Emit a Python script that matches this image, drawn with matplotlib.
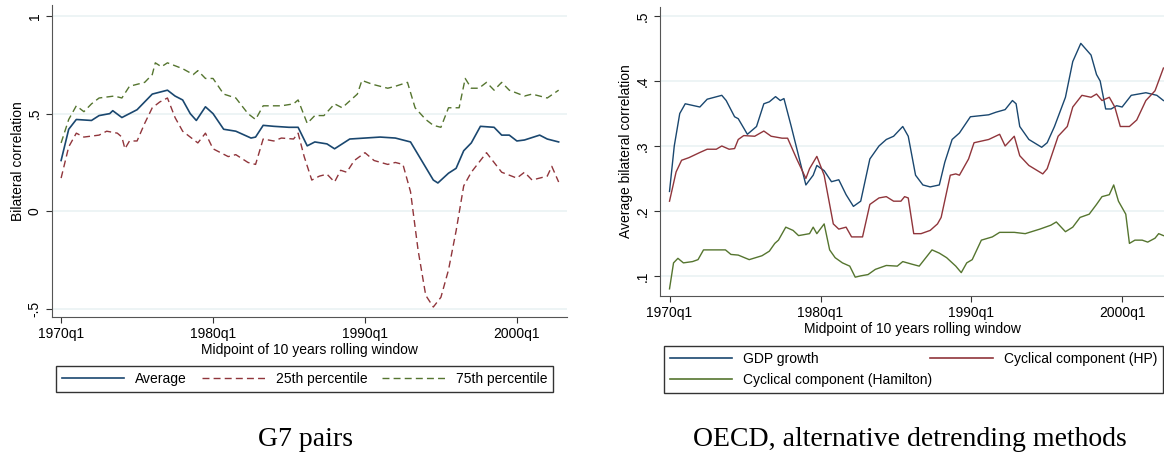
import numpy as np
import matplotlib
matplotlib.use("Agg")
import matplotlib.pyplot as plt
from matplotlib.lines import Line2D

plt.rcParams['font.family'] = ['Liberation Sans Narrow', 'Liberation Sans', 'DejaVu Sans']

# ---- left panel: G7 pairs (x in years) ----
avg_x = [1970, 1970.5, 1971, 1972, 1972.5, 1973.2, 1973.4, 1974, 1974.5, 1975, 1976, 1976.5, 1977,
         1977.5, 1978, 1978.5, 1978.9, 1979.5, 1980, 1980.7, 1981.5, 1982.5, 1982.8, 1983.3, 1984,
         1985, 1985.6, 1986.2, 1986.7, 1987.5, 1988, 1989, 1990, 1991, 1992, 1993, 1993.5, 1994.5,
         1994.8, 1995.5, 1996, 1996.5, 1997, 1997.6, 1998.5, 1999, 1999.5, 2000, 2000.5, 2001.5,
         2002, 2002.75]
avg_y = [0.26, 0.42, 0.47, 0.465, 0.49, 0.5, 0.515, 0.48, 0.5, 0.52, 0.6, 0.61, 0.62,
         0.59, 0.57, 0.5, 0.465, 0.535, 0.5, 0.42, 0.41, 0.375, 0.38, 0.44, 0.435,
         0.43, 0.43, 0.335, 0.355, 0.345, 0.32, 0.37, 0.375, 0.38, 0.375, 0.355, 0.29, 0.16,
         0.145, 0.195, 0.22, 0.31, 0.35, 0.435, 0.43, 0.39, 0.39, 0.36, 0.365, 0.39,
         0.37, 0.355]
p25_x = [1970, 1970.5, 1971, 1971.5, 1972.5, 1973, 1973.7, 1974, 1974.2, 1974.5, 1975, 1975.5, 1976,
         1976.5, 1977, 1977.5, 1978, 1978.5, 1979, 1979.5, 1980, 1981, 1981.5, 1982.3, 1982.8,
         1983.3, 1984, 1984.5, 1985.3, 1985.6, 1986, 1986.5, 1987, 1987.5, 1988, 1988.4, 1988.8,
         1989.3, 1990, 1990.6, 1991.5, 1992, 1992.5, 1993, 1993.5, 1994, 1994.5, 1995, 1995.5,
         1996, 1996.5, 1997, 1997.5, 1998, 1998.5, 1999, 2000, 2000.5, 2001, 2002, 2002.3, 2002.75]
p25_y = [0.17, 0.33, 0.4, 0.38, 0.39, 0.41, 0.4, 0.38, 0.32, 0.36, 0.36, 0.45, 0.53,
         0.56, 0.58, 0.48, 0.41, 0.38, 0.35, 0.4, 0.32, 0.28, 0.29, 0.25, 0.24,
         0.37, 0.36, 0.375, 0.37, 0.4, 0.28, 0.16, 0.18, 0.19, 0.15, 0.21, 0.2,
         0.26, 0.3, 0.26, 0.24, 0.25, 0.24, 0.1, -0.2, -0.43, -0.49, -0.44, -0.3,
         -0.1, 0.13, 0.2, 0.25, 0.3, 0.25, 0.2, 0.17, 0.2, 0.16, 0.18, 0.23, 0.15]
p75_x = [1970, 1970.5, 1971, 1971.5, 1972, 1972.5, 1973.5, 1974, 1974.5, 1975.5, 1976, 1976.2, 1976.6,
         1977, 1978, 1978.7, 1979, 1979.5, 1980, 1980.7, 1981.5, 1982.3, 1982.8, 1983.3, 1984.5,
         1985.3, 1985.6, 1986.2, 1986.7, 1987.3, 1988, 1988.5, 1989.5, 1989.8, 1990.5, 1991.5, 1992,
         1992.8, 1993.3, 1994, 1994.5, 1995, 1995.5, 1996.2, 1996.6, 1997, 1997.5, 1998, 1998.5,
         1999, 1999.5, 2000.5, 2001, 2002, 2002.75]
p75_y = [0.35, 0.47, 0.54, 0.51, 0.55, 0.58, 0.59, 0.58, 0.64, 0.66, 0.7, 0.76, 0.74,
         0.76, 0.73, 0.7, 0.72, 0.68, 0.68, 0.6, 0.58, 0.5, 0.47, 0.54, 0.54,
         0.55, 0.57, 0.45, 0.49, 0.49, 0.55, 0.53, 0.6, 0.67, 0.65, 0.63, 0.64,
         0.66, 0.53, 0.47, 0.44, 0.43, 0.53, 0.53, 0.68, 0.63, 0.63, 0.66, 0.62,
         0.66, 0.62, 0.59, 0.6, 0.58, 0.62]

# ---- right panel: OECD (x read as pixel positions in the zoomed crop) ----
gdp_px = [217, 230, 245, 260, 300, 320, 360, 372, 395, 405, 430, 455, 475, 490, 507, 520, 530, 550,
          590, 610, 620, 640, 660, 680, 700, 720, 740, 765, 790, 810, 830, 855, 870, 890, 910, 930,
          955, 970, 990, 1010, 1040, 1090, 1110, 1135, 1155, 1165, 1175, 1200, 1235, 1250, 1270,
          1300, 1320, 1342, 1370, 1385, 1395, 1410, 1425, 1440, 1455, 1480, 1520, 1550, 1568]
gdp_y = [0.23, 0.3, 0.35, 0.365, 0.36, 0.372, 0.378, 0.37, 0.345, 0.342, 0.318, 0.33, 0.365, 0.368,
         0.376, 0.37, 0.373, 0.33, 0.24, 0.255, 0.27, 0.262, 0.245, 0.248, 0.225, 0.207, 0.215,
         0.28, 0.3, 0.31, 0.315, 0.33, 0.315, 0.255, 0.24, 0.237, 0.24, 0.275, 0.31, 0.32, 0.345,
         0.348, 0.352, 0.356, 0.37, 0.365, 0.33, 0.31, 0.298, 0.305, 0.33, 0.375, 0.43, 0.458,
         0.44, 0.41, 0.4, 0.357, 0.357, 0.362, 0.36, 0.378, 0.382, 0.378, 0.37]
hp_px = [217, 235, 250, 270, 300, 320, 345, 360, 380, 395, 405, 420, 450, 475, 495, 525, 540, 565,
         590, 600, 620, 640, 665, 680, 700, 715, 745, 765, 790, 810, 830, 850, 860, 870, 885, 905,
         930, 950, 960, 985, 1000, 1010, 1035, 1050, 1090, 1120, 1135, 1160, 1175, 1200, 1238,
         1250, 1280, 1305, 1320, 1345, 1370, 1385, 1400, 1420, 1435, 1450, 1475, 1495, 1520, 1545, 1568]
hp_y = [0.215, 0.26, 0.278, 0.282, 0.29, 0.295, 0.295, 0.3, 0.295, 0.296, 0.31, 0.316, 0.315, 0.323,
        0.315, 0.312, 0.312, 0.28, 0.25, 0.265, 0.284, 0.255, 0.18, 0.172, 0.175, 0.16, 0.16, 0.21,
        0.22, 0.222, 0.215, 0.215, 0.222, 0.22, 0.165, 0.165, 0.17, 0.18, 0.19, 0.255, 0.257, 0.255,
        0.28, 0.305, 0.31, 0.318, 0.3, 0.315, 0.285, 0.27, 0.257, 0.265, 0.315, 0.33, 0.36, 0.378,
        0.375, 0.38, 0.37, 0.375, 0.36, 0.33, 0.33, 0.34, 0.37, 0.385, 0.42]
ham_px = [217, 228, 240, 255, 280, 295, 310, 370, 385, 405, 435, 470, 490, 505, 515, 535, 555, 570,
          600, 610, 620, 640, 655, 670, 690, 710, 725, 740, 760, 780, 810, 840, 855, 880, 900, 935,
          955, 975, 1000, 1015, 1030, 1045, 1070, 1100, 1120, 1160, 1190, 1230, 1260, 1275, 1300,
          1320, 1340, 1365, 1385, 1400, 1420, 1432, 1445, 1465, 1475, 1490, 1510, 1525, 1545, 1555, 1568]
ham_y = [0.08, 0.12, 0.127, 0.12, 0.122, 0.125, 0.14, 0.14, 0.133, 0.132, 0.125, 0.131, 0.138, 0.15,
         0.155, 0.175, 0.17, 0.162, 0.165, 0.175, 0.165, 0.18, 0.14, 0.128, 0.12, 0.115, 0.098, 0.1,
         0.102, 0.11, 0.116, 0.115, 0.122, 0.118, 0.115, 0.14, 0.135, 0.128, 0.115, 0.105, 0.12,
         0.125, 0.155, 0.16, 0.167, 0.167, 0.165, 0.172, 0.178, 0.183, 0.168, 0.175, 0.19, 0.195,
         0.21, 0.222, 0.225, 0.24, 0.215, 0.195, 0.15, 0.155, 0.155, 0.152, 0.158, 0.165, 0.162]


def px_to_year(px):
    return 1970 + (np.array(px) - 217) / 41.3


navy, maroon, green = '#1a476f', '#90353b', '#55752f'
W, H = 1164, 458
fig = plt.figure(figsize=(W / 100, H / 100), dpi=100)
fig.patch.set_color('white')


def box(l, t, r, b):
    return [l / W, 1 - b / H, (r - l) / W, (b - t) / H]


def style(ax, yticks, ylabels, ylim, xlim):
    ax.set_xlim(xlim)
    ax.set_ylim(ylim)
    ax.set_yticks(yticks)
    ax.set_yticklabels(ylabels, rotation=90, va='center')
    ax.set_xticks([1970, 1980, 1990, 2000])
    ax.set_xticklabels(['1970q1', '1980q1', '1990q1', '2000q1'])
    ax.tick_params(labelsize=10, length=4, color='#333333')
    ax.grid(axis='y', color='#eaf2f3', lw=1.2)
    ax.set_axisbelow(True)
    for s in ['top', 'right']:
        ax.spines[s].set_visible(False)
    for s in ['left', 'bottom']:
        ax.spines[s].set_color('#555555')


# left panel
ax1 = fig.add_axes(box(52, 5, 567, 317))
ax1.plot(avg_x, avg_y, color=navy, lw=1.2)
ax1.plot(p25_x, p25_y, color=maroon, lw=1.0, ls=(0, (5, 3)))
ax1.plot(p75_x, p75_y, color=green, lw=1.0, ls=(0, (5, 3)))
style(ax1, [-0.5, 0, 0.5, 1], ['-.5', '0', '.5', '1'], (-0.541, 1.056), (1969.4, 2003.3))
ax1.set_ylabel('Bilateral correlation', fontsize=10, labelpad=2)
ax1.set_xlabel('Midpoint of 10 years rolling window', fontsize=10, labelpad=1)

# right panel
ax2 = fig.add_axes(box(660, 7, 1164, 296))
ax2.plot(px_to_year(gdp_px), gdp_y, color=navy, lw=1.0)
ax2.plot(px_to_year(hp_px), hp_y, color=maroon, lw=1.0)
ax2.plot(px_to_year(ham_px), ham_y, color=green, lw=1.0)
style(ax2, [0.1, 0.2, 0.3, 0.4, 0.5], ['.1', '.2', '.3', '.4', '.5'], (0.069, 0.514), (1969.37, 2002.75))
ax2.set_ylabel('Average bilateral correlation', fontsize=10, labelpad=2)
ax2.set_xlabel('Midpoint of 10 years rolling window', fontsize=10, labelpad=1)

# legends
lg1 = fig.add_axes(box(56, 365, 553, 393))
lg1.axis('off')
h1 = [Line2D([], [], color=navy, lw=1.2),
      Line2D([], [], color=maroon, lw=1.0, ls=(0, (5, 3))),
      Line2D([], [], color=green, lw=1.0, ls=(0, (5, 3)))]
leg = lg1.legend(h1, ['Average', '25th percentile', '75th percentile'], loc='center', ncol=3,
                 mode='expand', bbox_to_anchor=(0, 0, 1, 1), fontsize=10, fancybox=False,
                 handlelength=4.5, borderaxespad=0, shadow=False)
leg.get_frame().set_edgecolor('black')

lg2 = fig.add_axes(box(664, 346, 1163, 393))
lg2.axis('off')
h2 = [Line2D([], [], color=navy, lw=1.2), Line2D([], [], color=green, lw=1.2),
      Line2D([], [], color=maroon, lw=1.2), Line2D([], [], lw=0)]
leg2 = lg2.legend(h2, ['GDP growth', 'Cyclical component (Hamilton)', 'Cyclical component (HP)', ''],
                  loc='center', ncol=2, mode='expand', bbox_to_anchor=(0, 0, 1, 1), fontsize=10,
                  fancybox=False, handlelength=4.5, borderaxespad=0)
leg2.get_frame().set_edgecolor('black')

fig.text(305 / W, 1 - 440 / H, 'G7 pairs', ha='center', va='center', fontsize=20,
         family=['Liberation Serif', 'DejaVu Serif'])
fig.text(910 / W, 1 - 440 / H, 'OECD, alternative detrending methods', ha='center', va='center',
         fontsize=20, family=['Liberation Serif', 'DejaVu Serif'])

fig.savefig('out.png', dpi=100)
